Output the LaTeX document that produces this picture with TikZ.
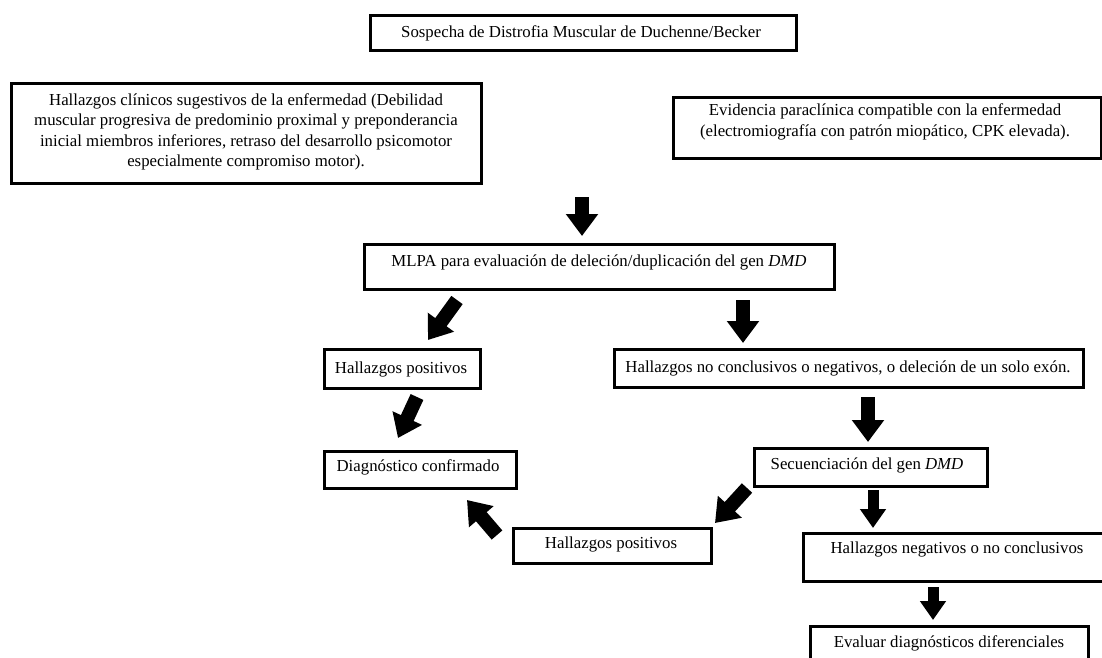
\documentclass[tikz,border=0pt]{standalone}
\usepackage{fontspec}
\setmainfont{Liberation Serif}
\usetikzlibrary{arrows.meta}
\begin{document}
\begin{tikzpicture}[x=1pt,y=-1pt,
  box/.style={draw, line width=3pt, inner sep=0pt, anchor=north west},
  txt/.style={font=\fontsize{16.8}{20.5}\selectfont, align=center, inner sep=0pt},
  barrow/.style={line width=14pt, -{Triangle[length=22pt,width=31pt]}},
  sarrow/.style={line width=11pt, -{Triangle[length=19pt,width=25pt]}}]
\useasboundingbox (0,0) rectangle (1102,657);
\fill[white] (0,0) rectangle (1102,657);
\clip (0,0) rectangle (1102,657);
% boxes
\node[box, minimum width=426pt, minimum height=35pt] (top) at (369,14) {};
\node[box, minimum width=470pt, minimum height=100pt] (clin) at (10,82) {};
\node[box, minimum width=428pt, minimum height=61pt] (para) at (672,96) {};
\node[box, minimum width=470pt, minimum height=45pt] (mlpa) at (363,243) {};
\node[box, minimum width=156pt, minimum height=39pt] (pos1) at (323,348) {};
\node[box, minimum width=469pt, minimum height=38pt] (nocon) at (613,348) {};
\node[box, minimum width=192pt, minimum height=37pt] (diag) at (323,450) {};
\node[box, minimum width=233pt, minimum height=38pt] (sec) at (753,447) {};
\node[box, minimum width=198pt, minimum height=35pt] (pos2) at (512,527) {};
\node[box, minimum width=300pt, minimum height=48pt] (neg) at (802,532) {};
\node[box, minimum width=278pt, minimum height=45pt] (eval) at (809,625) {};
% texts
\node[txt] (ttop) at (581,33) {Sospecha de Distrofia Muscular de Duchenne/Becker};
\node[txt] (tclin) at (246,132) {Hallazgos clínicos sugestivos de la enfermedad (Debilidad\\muscular progresiva de predominio proximal y preponderancia\\inicial miembros inferiores, retraso del desarrollo psicomotor\\especialmente compromiso motor).};
\node[txt] (tpara) at (885,122) {Evidencia paraclínica compatible con la enfermedad\\(electromiografía con patrón miopático, CPK elevada).};
\node[txt] (tmlpa) at (599,262) {MLPA para evaluación de deleción/duplicación del gen \textit{DMD}};
\node[txt] (tpos1) at (401,369) {Hallazgos positivos};
\node[txt] (tnocon) at (848,368) {Hallazgos no conclusivos o negativos, o deleción de un solo exón.};
\node[txt] (tdiag) at (418,467) {Diagnóstico confirmado};
\node[txt] (tsec) at (867,465) {Secuenciación del gen \textit{DMD}};
\node[txt] (tpos2) at (611,544) {Hallazgos positivos};
\node[txt] (tneg) at (957,549) {Hallazgos negativos o no conclusivos};
\node[txt] (teval) at (949,643) {Evaluar diagnósticos diferenciales};
% arrow end points
\coordinate (a1s) at (582,197); \coordinate (a1e) at (582,236);
\coordinate (a2s) at (457,300); \coordinate (a2e) at (428,340);
\coordinate (a3s) at (743,300); \coordinate (a3e) at (743,343);
\coordinate (a4s) at (417,397); \coordinate (a4e) at (398,438);
\coordinate (a5s) at (868,397); \coordinate (a5e) at (868,442);
\coordinate (a6s) at (747,488); \coordinate (a6e) at (715,523);
\coordinate (a7s) at (497,535); \coordinate (a7e) at (467,500);
\coordinate (a8s) at (873,490); \coordinate (a8e) at (873,528);
\coordinate (a9s) at (933,587); \coordinate (a9e) at (933,620);
\draw[barrow] (a1s) -- (a1e);
\draw[barrow] (a2s) -- (a2e);
\draw[barrow] (a3s) -- (a3e);
\draw[barrow] (a4s) -- (a4e);
\draw[barrow] (a5s) -- (a5e);
\draw[barrow] (a6s) -- (a6e);
\draw[barrow] (a7s) -- (a7e);
\draw[sarrow] (a8s) -- (a8e);
\draw[sarrow] (a9s) -- (a9e);
\end{tikzpicture}
\end{document}
